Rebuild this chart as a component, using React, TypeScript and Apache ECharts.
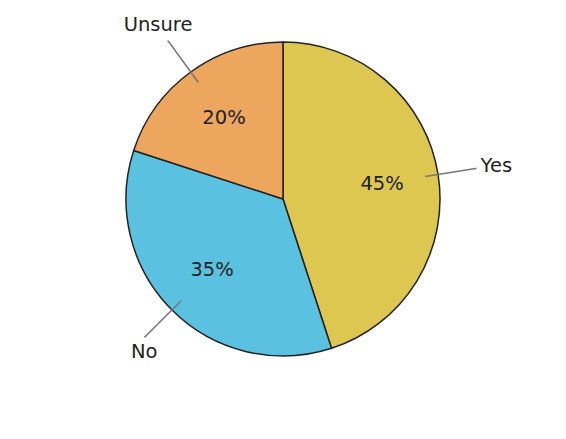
import React, { useEffect, useRef } from "react";
import * as echarts from "echarts";

const categories = ["Yes", "No", "Unsure"];
const shares = [45, 35, 20];
const colors = ["#DDC750", "#5BC1E1", "#EDA65E"];

const CX = 283;
const CY = 199;
const R = 157;
const FONT = "'DejaVu Sans', sans-serif";

const App: React.FC = () => {
  const chartRef = useRef<HTMLDivElement | null>(null);

  useEffect(() => {
    document.body.style.margin = "0";
    if (!chartRef.current) return;
    const chart = echarts.init(chartRef.current, undefined, { renderer: "svg" });

    const data = categories.map((name, i) => ({
      name,
      value: shares[i],
      itemStyle: { color: colors[i] },
    }));

    const clear = categories.map((name, i) => ({
      name,
      value: shares[i],
    }));

    const base = {
      type: "pie",
      center: [CX, CY],
      startAngle: 90,
      clockwise: true,
      silent: true,
      emphasis: { disabled: true },
      avoidLabelOverlap: false,
      labelLayout: { hideOverlap: false },
    };

    const option = {
      animation: false,
      backgroundColor: "#ffffff",
      series: [
        {
          ...base,
          z: 2,
          radius: [0, R],
          data,
          itemStyle: { borderColor: "#222222", borderWidth: 1.5 },
          label: { show: false },
          labelLine: { show: false },
        },
        {
          ...base,
          z: 3,
          radius: [R * 0.55, R * 0.69],
          data: clear,
          itemStyle: { color: "rgba(0,0,0,0)", borderWidth: 0 },
          label: {
            show: true,
            position: "inside",
            formatter: "{c}%",
            fontFamily: FONT,
            fontSize: 19.5,
            color: "#222222",
          },
          labelLine: { show: false },
        },
        {
          // leader lines, starting inside the wedges
          ...base,
          z: 4,
          radius: [0, R * 0.917],
          data: clear,
          itemStyle: { color: "rgba(0,0,0,0)", borderWidth: 0 },
          label: {
            show: true,
            position: "outside",
            formatter: () => " ",
            color: "rgba(0,0,0,0)",
            fontSize: 2,
          },
          labelLine: {
            show: true,
            length: 51,
            length2: 1,
            smooth: false,
            lineStyle: { color: "#777777", width: 1.5 },
          },
        },
        {
          ...base,
          z: 5,
          radius: [203, 223],
          data: clear.map((d) =>
            d.name === "No"
              ? { ...d, label: { padding: [0, 0, 0, 28] } }
              : d.name === "Yes"
              ? { ...d, label: { padding: [12, 0, 0, 0] } }
              : d.name === "Unsure"
              ? { ...d, label: { padding: [0, 0, 0, 4] } }
              : d
          ),
          itemStyle: { color: "rgba(0,0,0,0)", borderWidth: 0 },
          label: {
            show: true,
            position: "inside",
            formatter: "{b}",
            fontFamily: FONT,
            fontSize: 19.5,
            color: "#222222",
          },
          labelLine: { show: false },
        },
      ],
    };

    chart.setOption(option);
    return () => {
      chart.dispose();
    };
  }, []);

  return (
    <div
      ref={chartRef}
      style={{ width: "566px", height: "439px", background: "#ffffff" }}
    />
  );
};

export default App;
